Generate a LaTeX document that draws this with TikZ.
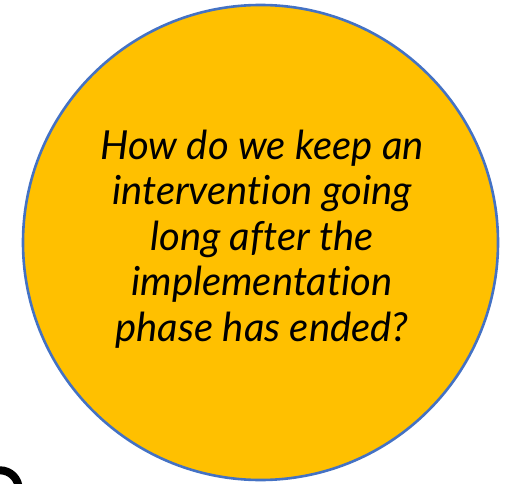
\documentclass[tikz,border=0pt]{standalone}
\usepackage{fontspec}
\setmainfont[Ligatures=NoCommon]{Lato}
\definecolor{qamber}{HTML}{FFC000}
\definecolor{qblue}{HTML}{4472C4}
\begin{document}
\begin{tikzpicture}[x=1pt,y=1pt,
   bubble/.style={circle,fill=qamber,draw=qblue,line width=2.6pt,minimum size=475pt,inner sep=0pt},
   question/.style={align=center,font=\fontsize{40}{45.5}\selectfont\itshape}]
   \useasboundingbox (0,0) rectangle (513,483);
   \node [bubble] (circ) at (260.5,240.5) {};
   \node [question] (q) at (262,244) {How do we keep an\\intervention going\\long after the\\implementation\\phase has ended?};
   \begin{scope}
     \clip (0,0) rectangle (513,483);
     \draw [black,line width=8pt] (0,-6) circle (18.7);
   \end{scope}
\end{tikzpicture}
\end{document}
